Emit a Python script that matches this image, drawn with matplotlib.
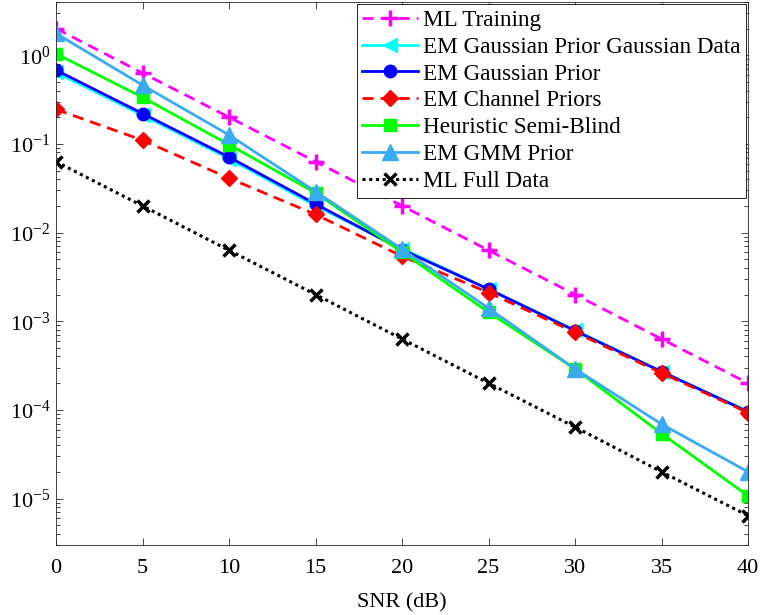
import numpy as np
import matplotlib
matplotlib.use('Agg')
import matplotlib.pyplot as plt

plt.rcParams['font.family'] = ['Liberation Serif', 'DejaVu Serif']
plt.rcParams['mathtext.fontset'] = 'custom'
plt.rcParams['mathtext.rm'] = 'Liberation Serif'
plt.rcParams['mathtext.it'] = 'Liberation Serif:italic'

snr = [0, 5, 10, 15, 20, 25, 30, 35, 40]

ml_training = [2.0, 0.63, 0.2, 0.063, 0.02, 0.0063, 0.002, 6.3e-4, 2.0e-4]
em_gauss_gdata = [0.64, 0.21, 0.068, 0.020, 0.0066, 0.0023, 7.9e-4, 2.7e-4, 9.6e-5]
em_gauss = [0.68, 0.22, 0.071, 0.021, 0.0064, 0.0023, 7.8e-4, 2.7e-4, 9.5e-5]
em_channel = [0.245, 0.11, 0.041, 0.016, 0.0054, 0.0021, 7.5e-4, 2.6e-4, 9.3e-5]
heuristic = [1.04, 0.335, 0.098, 0.028, 0.006, 0.00126, 2.9e-4, 5.4e-5, 1.07e-5]
em_gmm = [1.76, 0.46, 0.126, 0.029, 0.0065, 0.0014, 2.9e-4, 6.9e-5, 2.0e-5]
ml_full = [0.063, 0.02, 0.0063, 0.002, 6.3e-4, 2.0e-4, 6.4e-5, 2.0e-5, 6.4e-6]

fig = plt.figure(figsize=[7.61, 6.15], dpi=100)
fig.subplots_adjust(left=0.0736, bottom=0.114, right=0.983, top=0.997)
ax = fig.add_subplot(111)

ax.semilogy(snr, ml_training, color=(1, 0, 1), ls=(0, (4, 2.5)), lw=2.0, marker='+', ms=12, mew=2.5, label='ML Training')
ax.semilogy(snr, em_gauss_gdata, color=(0, 1, 1), ls='-', lw=2.0, marker='<', ms=10, label='EM Gaussian Prior Gaussian Data')
ax.semilogy(snr, em_gauss, color=(0, 0, 1), ls='-', lw=2.0, marker='o', ms=9, label='EM Gaussian Prior')
ax.semilogy(snr, em_channel, color=(1, 0, 0), ls=(0, (4, 2.5)), lw=2.0, marker='D', ms=8, label='EM Channel Priors')
ax.semilogy(snr, heuristic, color=(0, 1, 0), ls='-', lw=2.0, marker='s', ms=9, label='Heuristic Semi-Blind')
ax.semilogy(snr, em_gmm, color='#3aabf3', ls='-', lw=2.0, marker='^', ms=11, label='EM GMM Prior')
ax.semilogy(snr, ml_full, color='k', ls=(0, (1, 1.2)), lw=2.2, marker='x', ms=9, mew=2.5, label='ML Full Data')

ax.set_xlim(0, 40)
ax.set_ylim(3e-6, 4)
ax.set_xticks(np.arange(0, 45, 5))
ax.set_xlabel('SNR (dB)', fontsize=16, labelpad=11)
ax.tick_params(which='both', direction='in', top=True, right=True, labelsize=16, color='#262626', width=0.6)
ax.tick_params(which='major', length=5)
ax.tick_params(which='minor', length=3)
ax.tick_params(axis='x', pad=10)
ax.tick_params(axis='y', pad=4)
for s in ax.spines.values():
    s.set_color('#262626')
    s.set_linewidth(0.6)

leg = ax.legend(loc='upper right', fontsize=16.7, handlelength=2.4, labelspacing=0.24,
                borderaxespad=0.09, handletextpad=0.2, borderpad=0.25, fancybox=False, framealpha=1)
leg.get_frame().set_edgecolor('k')
leg.get_frame().set_linewidth(0.6)

fig.savefig('out.png', dpi=100)
